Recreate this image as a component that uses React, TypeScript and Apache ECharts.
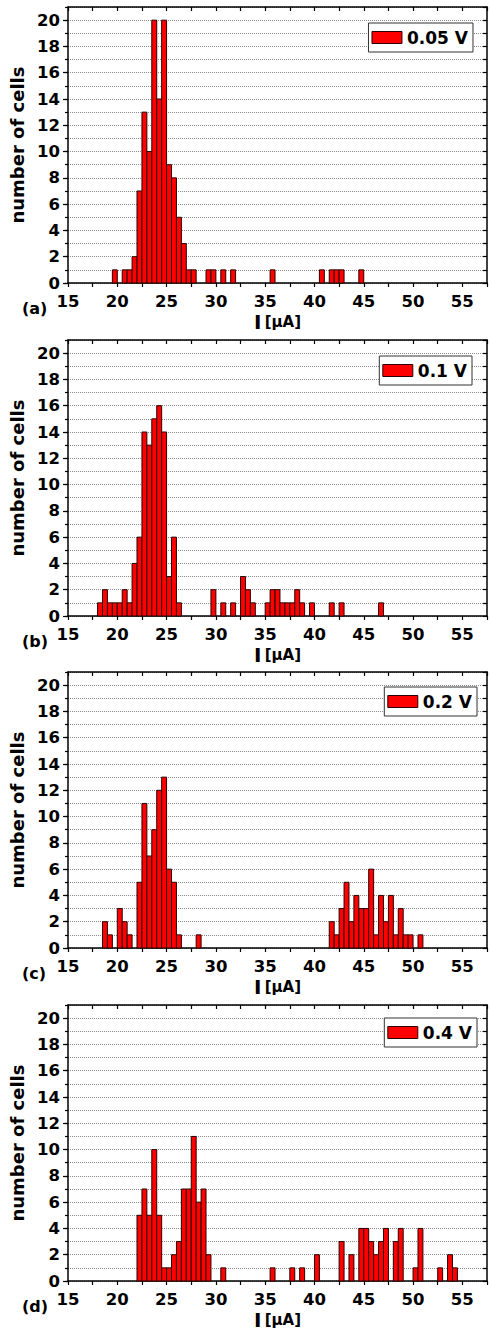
import React, { useEffect, useRef } from "react";
import * as echarts from "echarts";

// Histogram data: bin start (µA, bin width 0.5) and number of cells
const binsA = [19.5, 20.5, 21, 21.5, 22, 22.5, 23, 23.5, 24, 24.5, 25, 25.5, 26, 26.5, 27, 27.5, 29, 29.5, 30.5, 31.5, 35.5, 40.5, 41.5, 42, 42.5, 44.5];
const countsA = [1, 1, 1, 2, 7, 13, 10, 20, 14, 20, 9, 8, 5, 3, 1, 1, 1, 1, 1, 1, 1, 1, 1, 1, 1, 1];

const binsB = [18, 18.5, 19, 19.5, 20, 20.5, 21, 21.5, 22, 22.5, 23, 23.5, 24, 24.5, 25, 25.5, 26, 29.5, 30.5, 31.5, 32.5, 33, 33.5, 35, 35.5, 36, 36.5, 37, 37.5, 38, 38.5, 39.5, 41.5, 42.5, 46.5];
const countsB = [1, 2, 1, 1, 1, 2, 1, 4, 6, 14, 13, 15, 16, 14, 3, 6, 1, 2, 1, 1, 3, 2, 1, 1, 2, 2, 1, 1, 1, 2, 1, 1, 1, 1, 1];

const binsC = [18.5, 19, 20, 20.5, 21, 22, 22.5, 23, 23.5, 24, 24.5, 25, 25.5, 26, 28, 41.5, 42, 42.5, 43, 43.5, 44, 44.5, 45, 45.5, 46, 46.5, 47, 47.5, 48, 48.5, 49, 49.5, 50.5];
const countsC = [2, 1, 3, 2, 1, 5, 11, 7, 9, 12, 13, 6, 5, 1, 1, 2, 1, 3, 5, 2, 4, 3, 3, 6, 1, 4, 2, 4, 1, 3, 1, 1, 1];

const binsD = [22, 22.5, 23, 23.5, 24, 24.5, 25, 25.5, 26, 26.5, 27, 27.5, 28, 28.5, 29, 30.5, 35.5, 37.5, 38.5, 40, 42.5, 43.5, 44.5, 45, 45.5, 46, 46.5, 47, 48, 48.5, 50, 50.5, 52.5, 53.5, 54];
const countsD = [5, 7, 5, 10, 5, 1, 1, 2, 3, 7, 7, 11, 6, 7, 2, 1, 1, 1, 1, 2, 3, 2, 4, 4, 3, 2, 3, 4, 3, 4, 1, 4, 1, 2, 1];

const seriesNames = ["0.05 V", "0.1 V", "0.2 V", "0.4 V"];
const panelLabels = ["(a)", "(b)", "(c)", "(d)"];
const allBins = [binsA, binsB, binsC, binsD];
const allCounts = [countsA, countsB, countsC, countsD];

const BIN = 0.5;
const X_MIN = 15;
const X_MAX = 57.5;
const Y_MAX = 21;

const gridTops = [7, 340, 672, 1005];
const gridHeight = 276;
const legendPos = [
  { top: 23, right: 17 },
  { top: 356, right: 18 },
  { top: 687, right: 13 },
  { top: 1018, right: 13 },
];

const FONT = "'DejaVu Sans', sans-serif";

export default function App() {
  const ref = useRef<HTMLDivElement>(null);

  useEffect(() => {
    if (!ref.current) return;
    const chart = echarts.init(ref.current, null, { renderer: "svg" });

    const grids: any[] = [];
    const xAxes: any[] = [];
    const yAxes: any[] = [];
    const series: any[] = [];
    const legends: any[] = [];
    const graphics: any[] = [];

    for (let p = 0; p < 4; p++) {
      grids.push({ left: 68, right: 2, top: gridTops[p], height: gridHeight, containLabel: false });
      // bottom x axis
      xAxes.push({
        type: "value",
        gridIndex: p,
        position: "bottom",
        min: X_MIN,
        max: X_MAX,
        interval: 2.5,
        axisLine: { show: true, onZero: false, lineStyle: { color: "#000", width: 1.5 } },
        axisTick: { show: true, inside: false, length: 4, lineStyle: { color: "#000", width: 1.2 } },
        axisLabel: {
          margin: 10,
          fontFamily: FONT,
          fontWeight: "bold",
          fontSize: 16.5,
          color: "#000",
          formatter: (v: number) => (v % 5 === 0 && v <= 55 ? String(v) : ""),
        },
        splitLine: { show: false },
        name: "{i|I} {u|[µA]}",
        nameLocation: "middle",
        nameGap: 29,
        nameTextStyle: {
          rich: {
            i: { fontFamily: FONT, fontWeight: "bold", fontSize: 20, color: "#000" },
            u: { fontFamily: FONT, fontWeight: "bold", fontSize: 15, color: "#000" },
          },
        },
      });
      // top x axis (frame)
      xAxes.push({
        type: "value",
        gridIndex: p,
        position: "top",
        min: X_MIN,
        max: X_MAX,
        interval: 2.5,
        axisLine: { show: true, onZero: false, lineStyle: { color: "#000", width: 1.5 } },
        axisTick: { show: true, inside: true, length: 4, lineStyle: { color: "#000", width: 1.2 } },
        axisLabel: { show: false },
        splitLine: { show: false },
      });
      // left major y axis
      yAxes.push({
        type: "value",
        gridIndex: p,
        position: "left",
        min: 0,
        max: Y_MAX,
        interval: 2,
        axisLine: { show: true, onZero: false, lineStyle: { color: "#000", width: 1.5 } },
        axisTick: { show: true, inside: false, length: 5, lineStyle: { color: "#000", width: 1.2 } },
        axisLabel: {
          margin: 8,
          fontFamily: FONT,
          fontWeight: "bold",
          fontSize: 16.5,
          color: "#000",
          showMaxLabel: false,
        },
        splitLine: { show: false },
        name: "number of cells",
        nameLocation: "middle",
        nameGap: 36,
        nameTextStyle: { fontFamily: FONT, fontWeight: "bold", fontSize: 18, color: "#000" },
      });
      // left minor y axis: grid lines at every integer
      yAxes.push({
        type: "value",
        gridIndex: p,
        position: "left",
        min: 0,
        max: Y_MAX,
        interval: 1,
        axisLine: { show: false },
        axisTick: { show: true, inside: false, length: 3, lineStyle: { color: "#000", width: 1.2 } },
        axisLabel: { show: false },
        splitLine: { show: true, lineStyle: { color: "#8a8a8a", type: "dotted", width: 1 } },
      });
      // right y axis (frame)
      yAxes.push({
        type: "value",
        gridIndex: p,
        position: "right",
        min: 0,
        max: Y_MAX,
        interval: 1,
        axisLine: { show: true, onZero: false, lineStyle: { color: "#000", width: 1.5 } },
        axisTick: { show: true, inside: true, length: 4, lineStyle: { color: "#000", width: 1.2 } },
        axisLabel: { show: false },
        splitLine: { show: false },
      });

      const data = allBins[p].map((b, i) => [b, allCounts[p][i]]);
      series.push({
        type: "custom",
        name: seriesNames[p],
        xAxisIndex: p * 2,
        yAxisIndex: p * 3,
        data,
        encode: { x: 0, y: 1 },
        itemStyle: { color: "#ff0000", borderColor: "#2a0000", borderWidth: 1 },
        renderItem: (params: any, api: any) => {
          const x0 = api.value(0);
          const c = api.value(1);
          const a = api.coord([x0, c]);
          const b = api.coord([x0 + BIN, 0]);
          return {
            type: "rect",
            shape: { x: a[0], y: a[1], width: b[0] - a[0], height: b[1] - a[1] },
            style: { fill: "#ff0000", stroke: "#2a0000", lineWidth: 1 },
          };
        },
      });

      legends.push({
        data: [seriesNames[p]],
        top: legendPos[p].top,
        right: legendPos[p].right,
        orient: "horizontal",
        icon: "rect",
        itemWidth: 30,
        itemHeight: 12,
        padding: [6, 5, 6, 3],
        backgroundColor: "#fff",
        borderColor: "#333",
        borderWidth: 1,
        selectedMode: false,
        itemStyle: { color: "#ff0000", borderColor: "#2a0000", borderWidth: 1 },
        textStyle: { fontFamily: FONT, fontWeight: "bold", fontSize: 17, color: "#000", lineHeight: 14, padding: [0, 0, 0, 0] },
      });

      graphics.push({
        type: "text",
        left: 22,
        top: gridTops[p] + gridHeight + 17,
        style: { text: panelLabels[p], fontFamily: FONT, fontWeight: "bold", fontSize: 16, fill: "#000" },
      });
    }

    chart.setOption({
      animation: false,
      backgroundColor: "#fff",
      grid: grids,
      xAxis: xAxes,
      yAxis: yAxes,
      series,
      legend: legends,
      graphic: graphics,
    });

    return () => chart.dispose();
  }, []);

  return (
    <div
      ref={ref}
      style={{ position: "absolute", left: 0, top: 0, width: 490, height: 1332 }}
    />
  );
}
